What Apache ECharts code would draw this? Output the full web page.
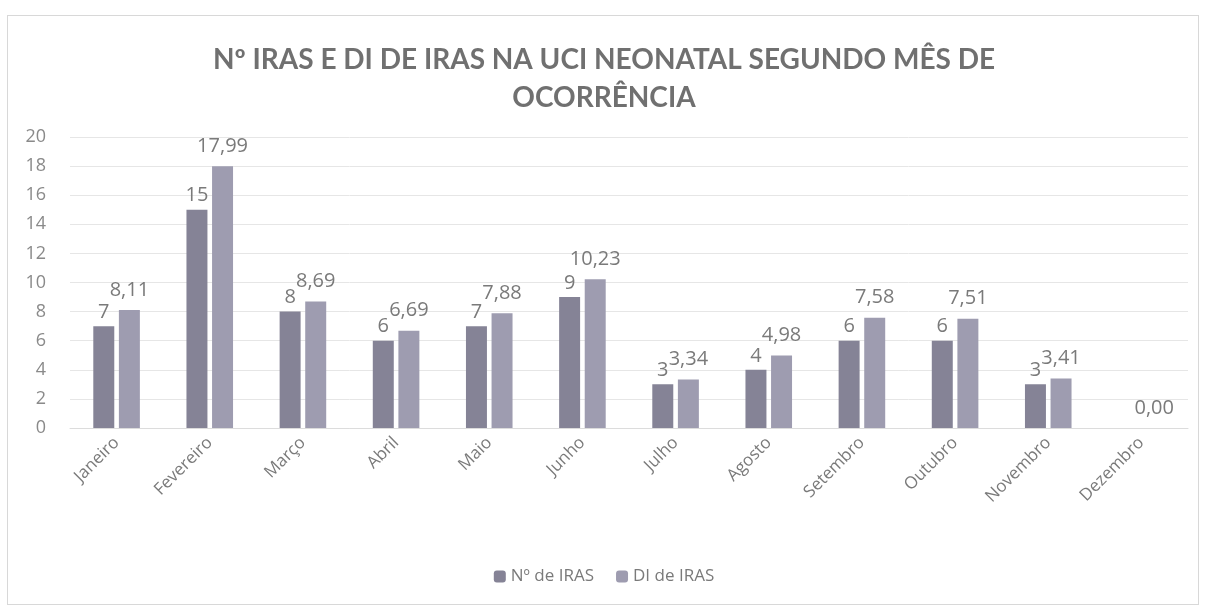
<!DOCTYPE html>
<html>
<head>
<meta charset="utf-8">
<title>Nº IRAS e DI de IRAS</title>
<script src="https://cdn.jsdelivr.net/npm/echarts@6/dist/echarts.min.js"></script>
<style>
    html, body { margin: 0; padding: 0; background: #fff; }
    #frame {
        position: absolute; left: 7px; top: 15px; width: 1192px; height: 590px;
        border: 1px solid #d8d8d8; box-sizing: border-box;
    }
    #chart { position: absolute; left: 0; top: 0; width: 1208px; height: 612px; }
</style>
</head>
<body>
<div id="frame"></div>
<div id="chart"></div>
<script>
// Dados
const months = ['Janeiro', 'Fevereiro', 'Março', 'Abril', 'Maio', 'Junho',
    'Julho', 'Agosto', 'Setembro', 'Outubro', 'Novembro', 'Dezembro'];
const nIras = [7, 15, 8, 6, 7, 9, 3, 4, 6, 6, 3, null];
const diIras = [8.11, 17.99, 8.69, 6.69, 7.88, 10.23, 3.34, 4.98, 7.58, 7.51, 3.41, 0];
const yTicks = [0, 2, 4, 6, 8, 10, 12, 14, 16, 18, 20];

document.addEventListener('DOMContentLoaded', function() {
    const chart = echarts.init(document.getElementById('chart'));
    const textColor = '#7a7a7a';

    const option = {
        animation: false,
        textStyle: { fontFamily: 'Open Sans' },
        title: {
            text: 'Nº IRAS E DI DE IRAS NA UCI NEONATAL SEGUNDO MÊS DE\nOCORRÊNCIA',
            left: 'center',
            top: 36,
            textStyle: {
                fontFamily: 'Lato',
                fontSize: 28,
                fontWeight: 'bold',
                color: '#707070',
                lineHeight: 38
            }
        },
        legend: {
            bottom: 22,
            left: 'center',
            itemWidth: 12,
            itemHeight: 12,
            itemGap: 22,
            textStyle: { fontSize: 17, color: textColor },
            data: ['Nº de IRAS', 'DI de IRAS']
        },
        grid: { left: 70, right: 20, top: 137, height: 291 },
        xAxis: {
            type: 'category',
            data: months,
            axisLine: { lineStyle: { color: '#dcdcdc' } },
            axisTick: { show: false },
            axisLabel: { rotate: 45, fontSize: 17, color: textColor, margin: 12, interval: 0 }
        },
        yAxis: {
            type: 'value',
            min: yTicks[0],
            max: yTicks[yTicks.length - 1],
            interval: 2,
            axisLine: { show: false },
            axisTick: { show: false },
            axisLabel: { fontSize: 18, color: '#8a8a8a', margin: 24 },
            splitLine: { lineStyle: { color: '#e6e6e6' } }
        },
        series: [
            {
                name: 'Nº de IRAS',
                type: 'bar',
                data: nIras,
                barGap: '22%',
                barCategoryGap: '50%',
                itemStyle: { color: '#858396' },
                label: {
                    show: true, position: 'top', distance: 4,
                    fontSize: 20, color: textColor
                }
            },
            {
                name: 'DI de IRAS',
                type: 'bar',
                data: diIras,
                itemStyle: { color: '#9e9cb0' },
                label: {
                    show: true, position: 'top', distance: 10,
                    fontSize: 20, color: textColor,
                    formatter: function(p) { return p.value.toFixed(2).replace('.', ','); }
                }
            }
        ]
    };

    chart.setOption(option);
});
</script>
</body>
</html>
